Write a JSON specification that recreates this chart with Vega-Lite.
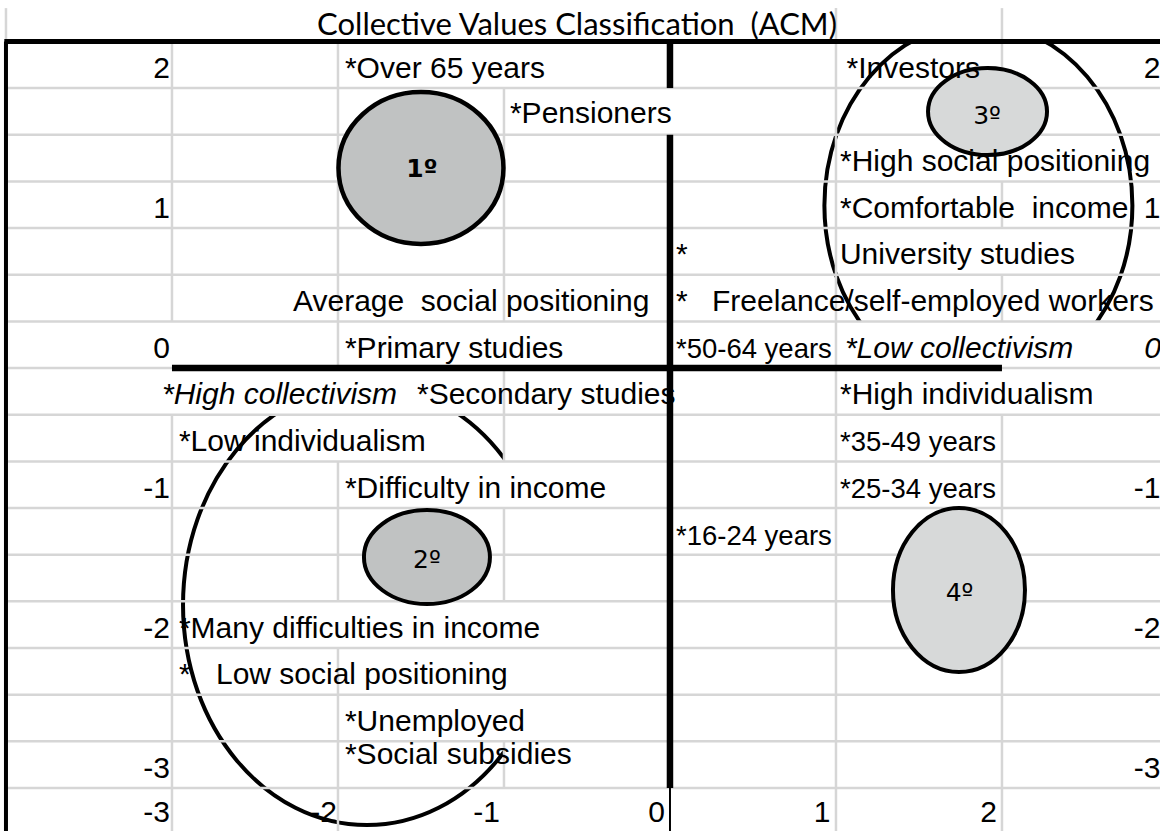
{
  "$schema": "https://vega.github.io/schema/vega-lite/v6.json",
  "width": 1160,
  "height": 831,
  "padding": 0,
  "autosize": {"type": "none"},
  "background": "white",
  "config": {"view": {"stroke": null}},
  "datasets": {
    "shapes": [
      {"id": "big2", "x": -1.825, "y": -1.693},
      {"id": "big3", "x": 1.858, "y": 1.161},
      {"id": "c1", "x": -1.5, "y": 1.429},
      {"id": "c2", "x": -1.464, "y": -1.35},
      {"id": "c3", "x": 1.913, "y": 1.832},
      {"id": "c4", "x": 1.741, "y": -1.586}
    ],
    "covers": [
      {"x": -3.2, "x2": -0.3, "y": -0.3333, "y2": 0},
      {"x": -1, "x2": -0.4, "y": -3.31, "y2": -0.3333},
      {"x": 0.5, "x2": 3, "y": -0.3333, "y2": 0.3333},
      {"x": 0.5, "x2": 3, "y": 2.3333, "y2": 2.7}
    ],
    "hgrid": [
      {"y": 2, "x": -4, "x2": 3},
      {"y": 1.6667, "x": -4, "x2": 3},
      {"y": 1.3333, "x": -4, "x2": 3},
      {"y": 1, "x": -4, "x2": 3},
      {"y": 0.6667, "x": -4, "x2": 3},
      {"y": 0.3333, "x": -4, "x2": 3},
      {"y": 0, "x": -4, "x2": 3},
      {"y": -0.3333, "x": -4, "x2": 3},
      {"y": -0.6667, "x": -4, "x2": 3},
      {"y": -1, "x": -4, "x2": 3},
      {"y": -1.3333, "x": -4, "x2": 3},
      {"y": -1.6667, "x": -4, "x2": 3},
      {"y": -2, "x": -4, "x2": 3},
      {"y": -2.3333, "x": -4, "x2": 3},
      {"y": -2.6667, "x": -4, "x2": 3},
      {"y": -3, "x": -4, "x2": 3}
    ],
    "vgrid": [
      {"x": -4, "y": 2.571, "y2": 2.3333},
      {"x": -3, "y": 2.3333, "y2": 0.3333},
      {"x": -3, "y": -0.3333, "y2": -3.31},
      {"x": -2, "y": 2.3333, "y2": 0},
      {"x": -2, "y": -0.6667, "y2": -1.6667},
      {"x": -2, "y": -2, "y2": -3.31},
      {"x": -1, "y": 2, "y2": 0.3333},
      {"x": -1, "y": 0, "y2": -0.6667},
      {"x": -1, "y": -1, "y2": -1.6667},
      {"x": -1, "y": -2.6667, "y2": -3},
      {"x": 1, "y": 2.571, "y2": -3.31},
      {"x": 2, "y": 2.571, "y2": 1.6667},
      {"x": 2, "y": 1.3333, "y2": 1},
      {"x": 2, "y": 0.6667, "y2": 0.3333},
      {"x": 2, "y": -0.3333, "y2": -3.31}
    ],
    "borderH": [{"y": 2.3333, "x": -4.01, "x2": 3}],
    "borderV": [{"x": -4, "y": 2.3333, "y2": -3.31}],
    "axisH": [{"y": 0, "x": -3, "x2": 2}],
    "axisV": [
      {"x": 0, "y": 2.3333, "y2": 2},
      {"x": 0, "y": 1.6667, "y2": -3}
    ],
    "axisThin": [{"x": 0, "y": -3, "y2": -3.31}],
    "title": [{"t": "Collective Values Classification\u00a0 (ACM)", "x": -0.56, "y": 2.379}],
    "categories": [
      {"t": "*Over 65 years", "x": -1.958, "y": 2.075},
      {"t": "*Investors", "x": 1.064, "y": 2.075},
      {"t": "*Pensioners", "x": -0.964, "y": 1.75},
      {"t": "*High social positioning", "x": 1.024, "y": 1.408},
      {"t": "*Comfortable\u00a0 income", "x": 1.024, "y": 1.075},
      {"t": "*", "x": 0.036, "y": 0.742},
      {"t": "University studies", "x": 1.024, "y": 0.742},
      {"t": "Average\u00a0 social positioning", "x": -2.271, "y": 0.408},
      {"t": "*", "x": 0.036, "y": 0.408},
      {"t": "Freelance/self-employed workers", "x": 0.253, "y": 0.408},
      {"t": "*Primary studies", "x": -1.958, "y": 0.075},
      {"t": "*Secondary studies", "x": -1.524, "y": -0.258},
      {"t": "*High individualism", "x": 1.024, "y": -0.258},
      {"t": "*Low individualism", "x": -2.958, "y": -0.592},
      {"t": "*Difficulty in income", "x": -1.958, "y": -0.925},
      {"t": "*Many difficulties in income", "x": -2.958, "y": -1.925},
      {"t": "*", "x": -2.958, "y": -2.258},
      {"t": "Low social positioning", "x": -2.735, "y": -2.258},
      {"t": "*Unemployed", "x": -1.958, "y": -2.592},
      {"t": "*Social subsidies", "x": -1.958, "y": -2.829}
    ],
    "italicCategories": [
      {"t": "*High collectivism", "x": -3.06, "y": -0.258},
      {"t": "*Low collectivism", "x": 1.054, "y": 0.075}
    ],
    "ages": [
      {"t": "*50-64 years", "x": 0.036, "y": 0.075},
      {"t": "*35-49 years", "x": 1.024, "y": -0.592},
      {"t": "*25-34 years", "x": 1.024, "y": -0.925},
      {"t": "*16-24 years", "x": 0.036, "y": -1.262}
    ],
    "ticks": [
      {"t": "2", "x": -3.012, "y": 2.075},
      {"t": "1", "x": -3.012, "y": 1.075},
      {"t": "0", "x": -3.012, "y": 0.075},
      {"t": "-1", "x": -3.012, "y": -0.925},
      {"t": "-2", "x": -3.012, "y": -1.925},
      {"t": "-3", "x": -3.012, "y": -2.925},
      {"t": "2", "x": 2.955, "y": 2.075},
      {"t": "1", "x": 2.955, "y": 1.075},
      {"t": "-1", "x": 2.955, "y": -0.925},
      {"t": "-2", "x": 2.955, "y": -1.925},
      {"t": "-3", "x": 2.955, "y": -2.925},
      {"t": "-3", "x": -3.012, "y": -3.243},
      {"t": "-2", "x": -2.006, "y": -3.243},
      {"t": "-1", "x": -1.024, "y": -3.243},
      {"t": "0", "x": -0.03, "y": -3.243},
      {"t": "1", "x": 0.966, "y": -3.243},
      {"t": "2", "x": 1.97, "y": -3.243}
    ],
    "italicTicks": [{"t": "0", "x": 2.958, "y": 0.075}],
    "boldClusters": [{"t": "1º", "x": -1.494, "y": 1.421}],
    "clusters": [
      {"t": "2º", "x": -1.464, "y": -1.371},
      {"t": "3º", "x": 1.91, "y": 1.8},
      {"t": "4º", "x": 1.744, "y": -1.607}
    ]
  },
  "encoding": {
    "x": {"field": "x", "type": "quantitative", "scale": {"domain": [-4.036, 2.952], "nice": false, "zero": false}, "axis": null},
    "y": {"field": "y", "type": "quantitative", "scale": {"domain": [-3.307, 2.629], "nice": false, "zero": false}, "axis": null}
  },
  "layer": [
    {
      "data": {"name": "shapes"},
      "transform": [{"filter": "datum.id == 'big2'"}],
      "mark": {"type": "point", "shape": "M-1,0A1,1.196 0 1,1 1,0A1,1.196 0 1,1 -1,0Z", "size": 135424, "filled": false, "stroke": "black", "strokeWidth": 4, "opacity": 1, "strokeOpacity": 1}
    },
    {
      "data": {"name": "shapes"},
      "transform": [{"filter": "datum.id == 'big3'"}],
      "mark": {"type": "point", "shape": "M-1,0A1,1.182 0 1,1 1,0A1,1.182 0 1,1 -1,0Z", "size": 94864, "filled": false, "stroke": "black", "strokeWidth": 4, "opacity": 1, "strokeOpacity": 1}
    },
    {
      "data": {"name": "covers"},
      "mark": {"type": "rect", "fill": "white", "stroke": null},
      "encoding": {"x2": {"field": "x2"}, "y2": {"field": "y2"}}
    },
    {
      "data": {"name": "hgrid"},
      "mark": {"type": "rule", "color": "#d6d6d6", "strokeWidth": 2.5},
      "encoding": {"x2": {"field": "x2"}}
    },
    {
      "data": {"name": "vgrid"},
      "mark": {"type": "rule", "color": "#d6d6d6", "strokeWidth": 2.5},
      "encoding": {"y2": {"field": "y2"}}
    },
    {
      "data": {"name": "borderH"},
      "mark": {"type": "rule", "color": "black", "strokeWidth": 5},
      "encoding": {"x2": {"field": "x2"}}
    },
    {
      "data": {"name": "borderV"},
      "mark": {"type": "rule", "color": "black", "strokeWidth": 4},
      "encoding": {"y2": {"field": "y2"}}
    },
    {
      "data": {"name": "axisH"},
      "mark": {"type": "rule", "color": "black", "strokeWidth": 6.5},
      "encoding": {"x2": {"field": "x2"}}
    },
    {
      "data": {"name": "axisV"},
      "mark": {"type": "rule", "color": "black", "strokeWidth": 6.5},
      "encoding": {"y2": {"field": "y2"}}
    },
    {
      "data": {"name": "axisThin"},
      "mark": {"type": "rule", "color": "black", "strokeWidth": 2},
      "encoding": {"y2": {"field": "y2"}}
    },
    {
      "data": {"name": "shapes"},
      "transform": [{"filter": "datum.id == 'c1'"}],
      "mark": {"type": "point", "shape": "M-1,0A1,0.921 0 1,1 1,0A1,0.921 0 1,1 -1,0Z", "size": 27225, "filled": true, "fill": "#c0c2c2", "stroke": "black", "strokeWidth": 4.5, "opacity": 1, "strokeOpacity": 1}
    },
    {
      "data": {"name": "shapes"},
      "transform": [{"filter": "datum.id == 'c2'"}],
      "mark": {"type": "point", "shape": "M-1,0A1,0.746 0 1,1 1,0A1,0.746 0 1,1 -1,0Z", "size": 15876, "filled": true, "fill": "#c0c2c2", "stroke": "black", "strokeWidth": 4, "opacity": 1, "strokeOpacity": 1}
    },
    {
      "data": {"name": "shapes"},
      "transform": [{"filter": "datum.id == 'c3'"}],
      "mark": {"type": "point", "shape": "M-1,0A1,0.731 0 1,1 1,0A1,0.731 0 1,1 -1,0Z", "size": 14161, "filled": true, "fill": "#d7d9d9", "stroke": "black", "strokeWidth": 4, "opacity": 1, "strokeOpacity": 1}
    },
    {
      "data": {"name": "shapes"},
      "transform": [{"filter": "datum.id == 'c4'"}],
      "mark": {"type": "point", "shape": "M-1,0A1,1.242 0 1,1 1,0A1,1.242 0 1,1 -1,0Z", "size": 17424, "filled": true, "fill": "#d7d9d9", "stroke": "black", "strokeWidth": 4, "opacity": 1, "strokeOpacity": 1}
    },
    {
      "data": {"name": "title"},
      "mark": {"type": "text", "font": "Lato", "fontSize": 31, "align": "center", "baseline": "alphabetic", "color": "black"},
      "encoding": {"text": {"field": "t", "type": "nominal"}}
    },
    {
      "data": {"name": "categories"},
      "mark": {"type": "text", "font": "Liberation Sans", "fontSize": 30, "align": "left", "baseline": "alphabetic", "color": "black"},
      "encoding": {"text": {"field": "t", "type": "nominal"}}
    },
    {
      "data": {"name": "italicCategories"},
      "mark": {"type": "text", "font": "Liberation Sans", "fontSize": 30, "fontStyle": "italic", "align": "left", "baseline": "alphabetic", "color": "black"},
      "encoding": {"text": {"field": "t", "type": "nominal"}}
    },
    {
      "data": {"name": "ages"},
      "mark": {"type": "text", "font": "Liberation Sans", "fontSize": 27.5, "align": "left", "baseline": "alphabetic", "color": "black"},
      "encoding": {"text": {"field": "t", "type": "nominal"}}
    },
    {
      "data": {"name": "ticks"},
      "mark": {"type": "text", "font": "Liberation Sans", "fontSize": 30, "align": "right", "baseline": "alphabetic", "color": "black"},
      "encoding": {"text": {"field": "t", "type": "nominal"}}
    },
    {
      "data": {"name": "italicTicks"},
      "mark": {"type": "text", "font": "Liberation Sans", "fontSize": 30, "fontStyle": "italic", "align": "right", "baseline": "alphabetic", "color": "black"},
      "encoding": {"text": {"field": "t", "type": "nominal"}}
    },
    {
      "data": {"name": "boldClusters"},
      "mark": {"type": "text", "font": "DejaVu Sans", "fontSize": 25, "fontWeight": "bold", "align": "center", "baseline": "middle", "color": "black"},
      "encoding": {"text": {"field": "t", "type": "nominal"}}
    },
    {
      "data": {"name": "clusters"},
      "mark": {"type": "text", "font": "DejaVu Sans", "fontSize": 25, "align": "center", "baseline": "middle", "color": "black"},
      "encoding": {"text": {"field": "t", "type": "nominal"}}
    }
  ]
}
